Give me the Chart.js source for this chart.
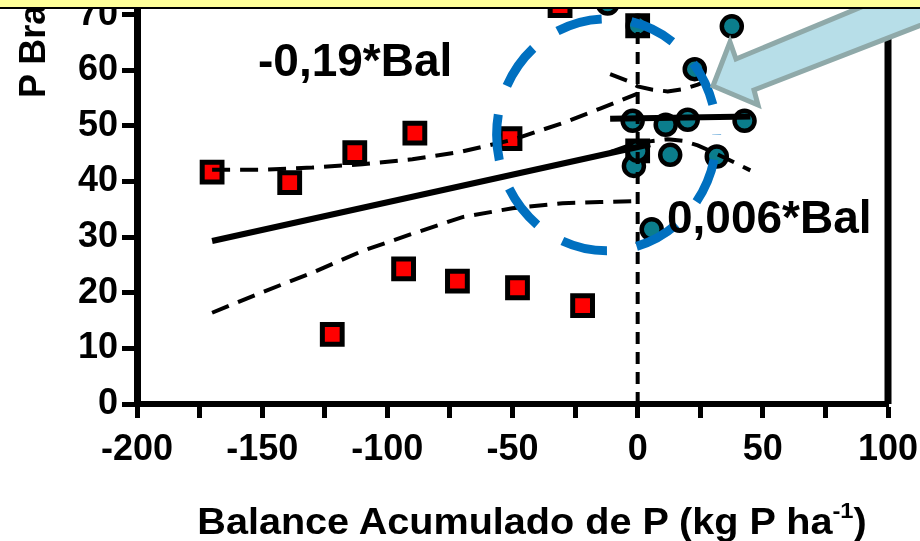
<!DOCTYPE html>
<html>
<head>
<meta charset="utf-8">
<script src="https://cdn.jsdelivr.net/npm/chart.js@4"></script>
<style>
  html, body { margin: 0; padding: 0; background: #fff; }
  body { width: 920px; height: 541px; overflow: hidden; position: relative; font-family: 'Liberation Sans', Arial, sans-serif; }
  #wrap { position: absolute; left: 0; top: -60px; width: 920px; height: 601px; }
  .texto { position: absolute; font-weight: bold; color: #000; white-space: nowrap; line-height: 1; }
  .texto sup { font-size: 0.6em; vertical-align: 0.7em; }
  #ec1 { left: 258px; top: 37px; font-size: 46px; }
  #ec2 { left: 667px; top: 194px; font-size: 46px; }
  #tituloX { left: 532px; top: 500px; font-size: 37px; transform: translateX(-50%) scaleX(1.07); }
  #tituloY { left: 12px; top: 98px; font-size: 36px; transform-origin: 0 0; transform: rotate(-90deg); }
  #flecha { position: absolute; left: 0; top: 0; }
  #banda { position: absolute; left: 0; top: 0; width: 920px; height: 7px; background: #ffff99; border-bottom: 2px solid #000; }
</style>
</head>
<body>
<div id="wrap"><canvas id="grafico" width="920" height="601"></canvas></div>
<div class="texto" id="ec1">-0,19*Bal</div>
<div class="texto" id="ec2">0,006*Bal</div>
<div class="texto" id="tituloX">Balance Acumulado de P (kg P ha<sup>-1</sup>)</div>
<div class="texto" id="tituloY">P Bray (mg kg<sup>-1</sup>)</div>
<svg id="flecha" width="920" height="541">
  <polygon points="713,86 730,42 736,59 960,-34 960,10 754,90 758,105" fill="#b7dee8" stroke="#8fa9a9" stroke-width="5" stroke-linejoin="miter"/>
</svg>
<div id="banda"></div>
<script>
// datos leidos del grafico
// balance negativo (cuadrados rojos)
const balNeg = [-170, -139, -113, -89, -51, -31, -122, -93.5, -72, -48, -22, 0, 0];
const pNeg = [41.7, 39.8, 45.2, 48.7, 47.7, 71.6, 12.5, 24.3, 22.1, 20.9, 17.7, 68, 45.5];

// balance positivo (circulos)
const balPos = [37.6, 22.8, -2, 11.2, 20, 42.7, 13, 31.6, -1.5, 5.6, -12, 0, 0];
const pPos = [67.9, 60.2, 50.9, 50.2, 51.1, 50.9, 44.8, 44.5, 42.8, 31.4, 72, 68, 45.5];

// recta y bandas de confianza, balance negativo
const ajusteNegX = [-170, 5];
const ajusteNegY = [29.3, 46.7];
const icNegX = [-170, -150, -130, -110, -90, -70, -50, -30, -15, 0];
const icNegSup = [42.1, 42.1, 42.5, 43.1, 44.0, 45.4, 47.5, 50.5, 53.1, 55.8];
const icNegInf = [16.4, 20.1, 23.6, 27.5, 30.6, 33.6, 35.2, 36.1, 36.3, 36.5];

// recta y bandas de confianza, balance positivo
const ajustePosX = [-11, 45];
const ajustePosY = [51.3, 51.7];
const icPosX = [-11, -4, 0, 6, 12, 18, 24, 30, 36, 41, 45];
const icPosSup = [59.3, 58.1, 57.1, 56.5, 56.2, 56.6, 57.4, 58.5, 59.6, 60.5, 61.2];
const icPosInf = [45.3, 46.4, 46.8, 47.3, 47.6, 47.3, 46.5, 45.3, 44.0, 42.9, 42.0];

// linea vertical en balance 0
const lineaCeroX = [0, 0];
const lineaCeroY = [0, 70];

const ticksX = [-200, -150, -100, -50, 0, 50, 100];
const ticksY = [0, 10, 20, 30, 40, 50, 60, 70, 80];

function pares(xs, ys) {
    return xs.map((v, i) => ({ x: v, y: ys[i] }));
}

function linea(xs, ys, ancho, guion) {
    return {
        data: pares(xs, ys),
        showLine: true,
        borderColor: '#000',
        borderWidth: ancho,
        borderDash: guion,
        pointRadius: 0,
        fill: false,
        order: 0
    };
}

const fuenteTicks = { family: "'Liberation Sans', Arial, sans-serif", size: 36, weight: 'bold' };

// circulo azul y linea derecha
const extras = {
    id: 'extras',
    afterDatasetsDraw(chart) {
        const { ctx, scales: { x, y } } = chart;
        ctx.save();
        ctx.strokeStyle = '#000';
        ctx.lineWidth = 7;
        ctx.beginPath();
        ctx.moveTo(x.getPixelForValue(100), y.getPixelForValue(66.5));
        ctx.lineTo(x.getPixelForValue(100), y.getPixelForValue(0));
        ctx.stroke();

        const cx = x.getPixelForValue(-12.4);
        const cy = y.getPixelForValue(48.4);
        ctx.strokeStyle = '#0070c0';
        ctx.lineWidth = 9;
        ctx.setLineDash([46, 30]);
        ctx.lineDashOffset = 51;
        ctx.beginPath();
        ctx.ellipse(cx, cy, 110, 116, 0, 0, Math.PI * 2);
        ctx.stroke();
        ctx.restore();
    }
};

const ctx = document.getElementById('grafico').getContext('2d');
new Chart(ctx, {
    type: 'scatter',
    data: {
        datasets: [
            linea(ajusteNegX, ajusteNegY, 6, []),
            linea(icNegX, icNegSup, 4, [18, 10]),
            linea(icNegX, icNegInf, 4, [18, 10]),
            linea(ajustePosX, ajustePosY, 6, []),
            linea(icPosX, icPosSup, 4, [18, 10]),
            linea(icPosX, icPosInf, 4, [18, 10]),
            linea(lineaCeroX, lineaCeroY, 4, [12, 8]),
            {
                data: pares(balPos, pPos),
                pointStyle: 'circle',
                pointRadius: 10,
                backgroundColor: '#0b7d8c',
                borderColor: '#000',
                borderWidth: 4.5,
                order: 1
            },
            {
                data: pares(balNeg, pNeg),
                pointStyle: 'rect',
                pointRadius: 14,
                backgroundColor: c => (c.raw && c.raw.x === 0) ? '#000' : '#ff0000',
                borderColor: '#000',
                borderWidth: 5,
                order: 2
            }
        ]
    },
    options: {
        responsive: false,
        devicePixelRatio: 1,
        animation: false,
        clip: false,
        layout: { padding: { top: 6, right: 32, left: 0, bottom: 0 } },
        plugins: { legend: { display: false }, tooltip: { enabled: false } },
        scales: {
            x: {
                type: 'linear',
                min: -200,
                max: 100,
                afterBuildTicks: s => { s.ticks = [-200, -175, -150, -125, -100, -75, -50, -25, 0, 25, 50, 75, 100].map(v => ({ value: v })); },
                ticks: {
                    color: '#000',
                    font: fuenteTicks,
                    padding: 10,
                    maxRotation: 0,
                    autoSkip: false,
                    callback: v => ticksX.includes(v) ? String(v) : ''
                },
                grid: { drawOnChartArea: false, tickLength: 14, tickWidth: 5, tickColor: '#000' },
                border: { color: '#000', width: 6 },
                afterFit: s => { s.height = 137; s.paddingLeft = 0; s.paddingRight = 0; }
            },
            y: {
                type: 'linear',
                min: 0,
                max: 80,
                afterBuildTicks: s => { s.ticks = ticksY.map(v => ({ value: v })); },
                ticks: { color: '#000', font: fuenteTicks, padding: 4 },
                grid: { drawOnChartArea: false, tickLength: 15, tickWidth: 5, tickColor: '#000' },
                border: { color: '#000', width: 7 },
                afterFit: s => { s.width = 137; s.paddingTop = 0; s.paddingBottom = 0; }
            }
        }
    },
    plugins: [extras]
});
</script>
</body>
</html>
